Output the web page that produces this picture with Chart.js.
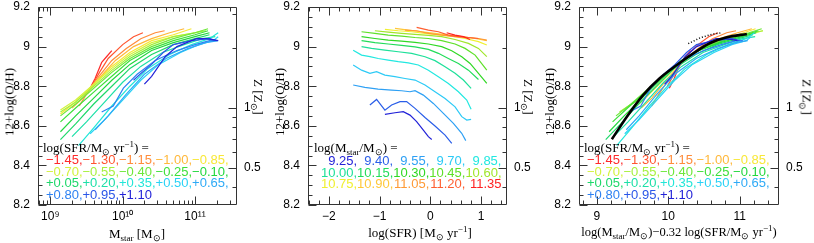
<!DOCTYPE html>
<html>
<head>
<meta charset="utf-8">
<script src="https://cdn.jsdelivr.net/npm/chart.js@4.4.1/dist/chart.umd.min.js"></script>
<style>
  body { margin: 0; background: #fff; width: 814px; height: 243px; position: relative; overflow: hidden; }
  canvas { position: absolute; top: 0; }
  .t { position: absolute; white-space: nowrap; font-family: 'Liberation Serif', 'Times New Roman', serif; font-size: 13px; line-height: 13px; color: #000; }
  .c { transform: translate(-50%, -50%); }
  .up { transform: translate(-50%, -50%) rotate(-90deg); }
  .down { transform: translate(-50%, -50%) rotate(90deg); }
  .t sub { font-size: 9px; vertical-align: -3px; line-height: 0; }
  .t sup { font-size: 9px; vertical-align: 5px; line-height: 0; }
  .eq { color: #666; font-weight: bold; }
  .lg { position: absolute; white-space: nowrap; font-family: 'Liberation Sans', Arial, sans-serif; font-size: 13px; }
  .lg div { height: 11.5px; line-height: 11.5px; }
</style>
</head>
<body>
<canvas id="c1" width="270" height="243" style="left:0px"></canvas>
<canvas id="c2" width="270" height="243" style="left:270px"></canvas>
<canvas id="c3" width="274" height="243" style="left:540px"></canvas>

<div class="t up" style="left:9px;top:102px">12+log(O/H)</div>
<div class="t up" style="left:279px;top:102px">12+log(O/H)</div>
<div class="t up" style="left:549px;top:102px">12+log(O/H)</div>
<div class="t down" style="left:258px;top:97px">Z [Z<sub>⊙</sub>]</div>
<div class="t down" style="left:528px;top:97px">Z [Z<sub>⊙</sub>]</div>
<div class="t down" style="left:807px;top:97px">Z [Z<sub>⊙</sub>]</div>
<div class="t c" style="left:137px;top:233px">M<sub>star</sub> [M<sub>⊙</sub>]</div>
<div class="t c" style="left:420px;top:232px">log(SFR) [M<sub>⊙</sub> yr<sup>−1</sup>]</div>
<div class="t c" style="left:679px;top:232px;font-size:12.5px">log(M<sub>star</sub>/M<sub>⊙</sub>)−0.32 log(SFR/M<sub>⊙</sub> yr<sup>−1</sup>)</div>
<div class="t" style="left:43px;top:141px">log(SFR/M<sub>⊙</sub> yr<sup>−1</sup>) <span class="eq">=</span></div>
<div class="t" style="left:314px;top:141px">log(M<sub>star</sub>/M<sub>⊙</sub>) <span class="eq">=</span></div>
<div class="t" style="left:584px;top:141px">log(SFR/M<sub>⊙</sub> yr<sup>−1</sup>) <span class="eq">=</span></div>

<script>
// SFR bins (left and right panels)
const sfrLabels = ['−1.45','−1.30','−1.15','−1.00','−0.85','−0.70','−0.55','−0.40','−0.25','−0.10',
                   '+0.05','+0.20','+0.35','+0.50','+0.65','+0.80','+0.95','+1.10'];
const sfrValues = [-1.45,-1.30,-1.15,-1.00,-0.85,-0.70,-0.55,-0.40,-0.25,-0.10,0.05,0.20,0.35,0.50,0.65,0.80,0.95,1.10];
const sfrColors = ['#ff2a2a','#ff5530','#ff8c3a','#ffb83a','#f8e838','#d4f23e','#a6f03c','#6ee83a','#3ee03a','#22d83e',
                   '#1ed86a','#1ee0a8','#22e6d8','#2ad2f6','#2eaaf6','#2e82f2','#2a56e8','#2222d8'];

// mass bins (middle panel)
const massLabels = ['9.25','9.40','9.55','9.70','9.85','10.00','10.15','10.30','10.45','10.60','10.75','10.90','11.05','11.20','11.35'];
const massColors = ['#2222d8','#2a5ee8','#2ea0f4','#2ccaf6','#22e8e0','#1ee09a','#22dc5a','#30d824','#5ee028','#a0e62a',
                    '#f0f030','#ffc838','#ff9a36','#ff5e30','#ff2222'];

// left panel: log M* and 12+log(O/H), one array per SFR bin
const mzMass = [
  [9.55,9.62,9.71,9.78,9.85],
  [9.57,9.68,9.80,10.00,10.15,10.28],
  [9.40,9.50,9.65,9.85,10.05,10.25,10.45,10.58],
  [9.30,9.45,9.65,9.90,10.15,10.40,10.65,10.85],
  [9.14,9.35,9.60,9.85,10.10,10.40,10.70,10.95],
  [9.14,9.35,9.60,9.85,10.10,10.40,10.70,11.00,11.10],
  [9.14,9.35,9.60,9.85,10.10,10.40,10.70,11.00,11.15],
  [9.14,9.35,9.60,9.85,10.10,10.40,10.70,11.00,11.18],
  [9.14,9.35,9.60,9.85,10.10,10.40,10.70,11.00,11.18],
  [9.14,9.35,9.60,9.85,10.10,10.40,10.70,11.00,11.20],
  [9.14,9.35,9.60,9.85,10.10,10.40,10.70,11.00,11.20],
  [9.30,9.50,9.75,10.00,10.25,10.55,10.85,11.10,11.28],
  [9.39,9.60,9.85,10.10,10.35,10.65,10.95,11.20,11.32],
  [9.55,9.75,10.00,10.25,10.50,10.80,11.05,11.25,11.32],
  [9.62,9.80,10.05,10.30,10.60,10.90,11.15,11.32],
  [9.71,9.87,10.01,10.20,10.45,10.75,11.00,11.20,11.30],
  [10.15,10.24,10.40,10.56,10.70,10.95,11.20,11.30],
  [10.30,10.40,10.59,10.75,11.02,11.16,11.32]
];
const mzOH = [
  [8.79,8.84,8.92,8.95,8.98],
  [8.80,8.87,8.94,9.01,9.05,9.07],
  [8.70,8.76,8.84,8.93,8.99,9.04,9.07,9.08],
  [8.69,8.74,8.83,8.93,9.00,9.04,9.07,9.09],
  [8.66,8.72,8.81,8.90,8.97,9.03,9.06,9.09],
  [8.68,8.73,8.81,8.89,8.96,9.02,9.05,9.07,9.08],
  [8.67,8.72,8.80,8.88,8.95,9.01,9.05,9.07,9.08],
  [8.65,8.71,8.79,8.87,8.94,9.00,9.04,9.07,9.09],
  [8.62,8.69,8.77,8.85,8.93,8.99,9.03,9.06,9.08],
  [8.57,8.65,8.74,8.83,8.91,8.98,9.02,9.05,9.07],
  [8.53,8.61,8.71,8.80,8.89,8.96,9.01,9.04,9.06],
  [8.545,8.62,8.72,8.82,8.90,8.97,9.01,9.04,9.05],
  [8.50,8.59,8.70,8.80,8.89,8.96,9.01,9.04,9.07],
  [8.56,8.63,8.73,8.83,8.91,8.97,9.01,9.03,9.05],
  [8.58,8.65,8.76,8.86,8.94,8.99,9.02,9.03],
  [8.67,8.70,8.79,8.86,8.93,8.98,9.01,9.03,9.03],
  [8.83,8.86,8.91,8.97,9.01,9.03,9.04,9.03],
  [8.81,8.85,8.95,9.00,9.04,9.04,9.03]
];

// middle panel: log SFR and 12+log(O/H), one array per mass bin
const zsSFR = [
  [-0.895,-0.697,-0.533,-0.401,-0.270,-0.138,-0.039,0.027],
  [-1.191,-1.059,-0.895,-0.763,-0.598,-0.467,-0.302,-0.105,0.092,0.290,0.422],
  [-1.52,-1.29,-1.03,-0.763,-0.566,-0.401,-0.302,-0.138,0.059,0.257,0.454,0.618,0.698],
  [-1.52,-1.355,-1.19,-1.059,-0.895,-0.697,-0.50,-0.302,-0.105,0.092,0.290,0.487,0.619,0.717,0.803],
  [-1.52,-1.355,-1.19,-1.026,-0.829,-0.632,-0.434,-0.237,-0.039,0.158,0.355,0.553,0.717,0.803],
  [-1.355,-1.158,-0.895,-0.632,-0.368,-0.105,0.092,0.290,0.487,0.651,0.803],
  [-1.355,-1.092,-0.829,-0.566,-0.302,-0.039,0.158,0.355,0.553,0.750,0.948],
  [-1.355,-1.092,-0.829,-0.566,-0.302,-0.039,0.224,0.421,0.619,0.783,0.948,1.112],
  [-1.355,-1.092,-0.829,-0.566,-0.302,-0.039,0.224,0.487,0.684,0.882,1.112],
  [-1.092,-0.829,-0.566,-0.302,-0.039,0.224,0.487,0.750,0.948,1.112],
  [-0.895,-0.632,-0.368,-0.105,0.158,0.421,0.684,0.948,1.112],
  [-0.697,-0.434,-0.171,0.092,0.355,0.619,0.882,1.112],
  [-0.50,-0.27,-0.039,0.224,0.487,0.750,0.948,1.112],
  [-0.27,-0.039,0.158,0.355,0.553,0.750,0.948],
  [0.322,0.487,0.651,0.783]
];
const zsOH = [
  [8.658,8.666,8.671,8.654,8.621,8.578,8.545,8.531],
  [8.705,8.733,8.679,8.705,8.722,8.722,8.688,8.642,8.599,8.553,8.511],
  [8.806,8.794,8.785,8.780,8.777,8.772,8.777,8.755,8.713,8.663,8.612,8.562,8.525],
  [8.907,8.881,8.865,8.873,8.856,8.848,8.839,8.831,8.806,8.772,8.738,8.696,8.646,8.629,8.632],
  [8.982,8.957,8.949,8.940,8.932,8.924,8.918,8.907,8.881,8.848,8.814,8.772,8.730,8.683],
  [9.000,8.991,8.982,8.974,8.966,8.949,8.929,8.898,8.865,8.831,8.789],
  [9.030,9.020,9.013,9.006,8.999,8.986,8.966,8.940,8.915,8.881,8.834],
  [9.050,9.041,9.033,9.028,9.021,9.013,9.000,8.979,8.949,8.915,8.865,8.814],
  [9.075,9.067,9.058,9.053,9.046,9.041,9.030,9.013,8.991,8.957,8.881],
  [9.080,9.073,9.067,9.062,9.057,9.050,9.036,9.016,8.991,8.949],
  [9.087,9.080,9.075,9.067,9.060,9.053,9.041,9.025,9.008],
  [9.092,9.083,9.075,9.067,9.058,9.050,9.041,9.030],
  [9.083,9.080,9.067,9.058,9.050,9.046,9.041,9.033],
  [9.097,9.083,9.075,9.058,9.050,9.046,9.041],
  [9.070,9.058,9.050,9.036]
];

// right panel: black fit line and dotted line
const fitMu = [9.21,9.42,9.65,9.88,10.12,10.35,10.58,10.82,11.10];
const fitOH = [8.532,8.646,8.756,8.840,8.907,8.966,9.017,9.047,9.064];
const dotMu = [10.28,10.45,10.62,10.75];
const dotOH = [9.015,9.045,9.063,9.070];

const alpha = 0.32;
const solarOH = 8.69;
const yTicks = [8.2,8.4,8.6,8.8,9,9.2];
const zLabels = ['1','0.5'];
const zMajor = [1,0.5];
const zMinor = [3,2,0.9,0.8,0.7,0.6,0.4];

function range(a, b, step) { const r = []; for (let v = a; v <= b + 1e-9; v += step) r.push(+v.toFixed(4)); return r; }

const frameTicks = {
  id: 'frameTicks',
  afterDatasetsDraw(chart, args, o) {
    const { ctx, chartArea: a, scales } = chart;
    const L = Math.round(a.left) + 0.5, R = Math.round(a.right) - 0.5;
    const T = Math.round(a.top) + 0.5, B = Math.round(a.bottom) - 0.5;
    ctx.save();
    ctx.strokeStyle = '#333';
    ctx.lineWidth = 1;
    ctx.beginPath();
    ctx.rect(L, T, R - L, B - T);
    const xt = (v, len) => {
      const p = Math.round(scales.x.getPixelForValue(v)) + 0.5;
      ctx.moveTo(p, B); ctx.lineTo(p, B - len);
      ctx.moveTo(p, T); ctx.lineTo(p, T + len);
    };
    const yl = (v, len) => { const p = Math.round(scales.y.getPixelForValue(v)) + 0.5; ctx.moveTo(L, p); ctx.lineTo(L + len, p); };
    const yr = (v, len) => { const p = Math.round(scales.y.getPixelForValue(v)) + 0.5; ctx.moveTo(R, p); ctx.lineTo(R - len, p); };
    o.xMajor.forEach(v => xt(v, 8));
    o.xMinor.forEach(v => xt(v, 4));
    yTicks.forEach(v => yl(v, 8));
    range(8.25, 9.15, 0.05).forEach(v => yl(v, 4));
    zMajor.forEach(z => yr(solarOH + Math.log10(z), 8));
    zMinor.forEach(z => yr(solarOH + Math.log10(z), 4));
    ctx.stroke();
    ctx.restore();
  }
};

const tickFont = { family: "'Liberation Sans', Arial, sans-serif", size: 12, lineHeight: 1 };
const noPad = s => { s.paddingTop = 0; s.paddingBottom = 0; s.paddingLeft = 0; s.paddingRight = 0; };

function makeChart(id, xMin, xMax, xMajor, xMinor, xLabel, leftW, datasets) {
  const el = document.getElementById(id);
  const rightW = el.width - leftW - (id === 'c3' ? 200 : 199);
  return new Chart(el, {
    type: 'scatter',
    data: { datasets },
    options: {
      responsive: false, animation: false, devicePixelRatio: 1,
      layout: { padding: { top: 7, left: 0, right: 0, bottom: 0 } },
      plugins: { legend: { display: false }, tooltip: { enabled: false }, frameTicks: { xMajor, xMinor } },
      elements: { point: { radius: 0 }, line: { tension: 0 } },
      scales: {
        x: {
          type: 'linear', min: xMin, max: xMax,
          grid: { display: false, drawTicks: false }, border: { display: false },
          afterBuildTicks: s => { s.ticks = xMajor.map(v => ({ value: v })); },
          afterFit: s => { s.height = 38; noPad(s); },
          ticks: { font: tickFont, color: '#000', padding: 6, autoSkip: false, maxRotation: 0,
                   callback: (v, i) => xLabel[i] }
        },
        y: {
          type: 'linear', position: 'left', min: 8.2, max: 9.2,
          grid: { display: false, drawTicks: false }, border: { display: false },
          afterBuildTicks: s => { s.ticks = yTicks.map(v => ({ value: v })); },
          afterFit: s => { s.width = leftW; noPad(s); },
          ticks: { font: tickFont, color: '#000', padding: 8, callback: v => String(v) }
        },
        z: {
          type: 'linear', position: 'right', min: 8.2, max: 9.2,
          grid: { display: false, drawTicks: false }, border: { display: false },
          afterBuildTicks: s => { s.ticks = zMajor.map(z => ({ value: solarOH + Math.log10(z) })); },
          afterFit: s => { s.width = rightW; noPad(s); },
          ticks: { font: tickFont, color: '#000', padding: 7, callback: (v, i) => zLabels[i] }
        }
      }
    },
    plugins: [frameTicks]
  });
}

// later datasets are drawn on top (lower order = drawn last)
function line(xs, ys, color, width, order, extra) {
  return Object.assign({
    data: xs.map((x, i) => ({ x, y: ys[i] })),
    showLine: true, borderColor: color, backgroundColor: color, borderWidth: width, pointRadius: 0, fill: false, order
  }, extra || {});
}

// left panel
const logMinor = [];
[8, 9, 10, 11].forEach(d => { for (let k = 2; k <= 9; k++) logMinor.push(d + Math.log10(k)); });
makeChart('c1', 8.83, 11.58, [9, 10, 11], logMinor.filter(v => v > 8.83 && v < 11.58), ['10⁹', '10¹⁰', '10¹¹'], 38,
  mzMass.map((m, i) => line(m, mzOH[i], sfrColors[i], 1.2, -i)));

// middle panel
makeChart('c2', -2.41, 1.51, [-2, -1, 0, 1], range(-2.4, 1.4, 0.2).filter(v => Math.abs(v - Math.round(v)) > 0.01),
  ['−2', '−1', '0', '1'], 38,
  zsSFR.map((s, i) => line(s, zsOH[i], massColors[i], 1.2, -i)));

// right panel: same curves as the left panel, on the mu_0.32 axis
const right = mzMass.map((m, i) => line(m.map(v => v - alpha * sfrValues[i]), mzOH[i], sfrColors[i], 1.2, -i));
right.push(line(fitMu, fitOH, '#000', 2.6, -100, { tension: 0.3 }));
right.push(line(dotMu, dotOH, '#000', 1.5, -101, { borderDash: [1, 2] }));
makeChart('c3', 8.75, 11.55, [9, 10, 11], range(8.8, 11.4, 0.2).filter(v => Math.abs(v - Math.round(v)) > 0.01),
  ['9', '10', '11'], 39, right);

// colored value legends
function legend(left, top, labels, colors, cellW) {
  const box = document.createElement('div');
  box.className = 'lg';
  box.style.left = left + 'px';
  box.style.top = top + 'px';
  for (let r = 0; r * 5 < labels.length; r++) {
    const row = document.createElement('div');
    labels.slice(r * 5, r * 5 + 5).forEach((t, i) => {
      const k = r * 5 + i;
      const sp = document.createElement('span');
      sp.style.color = colors[k];
      sp.textContent = t + (k < labels.length - 1 ? ',' : '');
      if (cellW) { sp.style.display = 'inline-block'; sp.style.width = cellW + 'px'; sp.style.textAlign = 'right'; }
      row.appendChild(sp);
    });
    box.appendChild(row);
  }
  document.body.appendChild(box);
}
legend(46, 154, sfrLabels, sfrColors);
legend(321, 155, massLabels, massColors, 36.1);
legend(587, 154, sfrLabels, sfrColors);
</script>
</body>
</html>
